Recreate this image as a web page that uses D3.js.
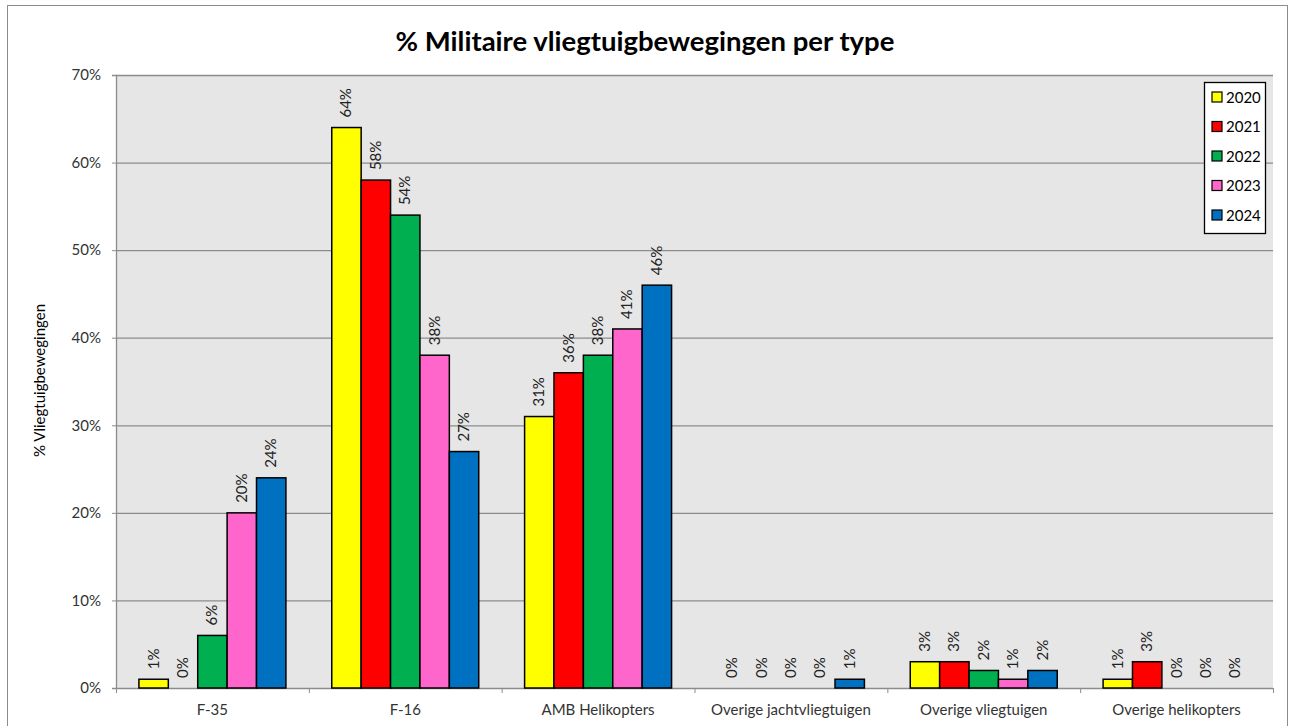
<!DOCTYPE html>
<html>
<head>
<meta charset="utf-8">
<script src="https://cdn.jsdelivr.net/npm/d3@7"></script>
<style>
  body { margin: 0; background: #fff; }
  svg { font-family: Lato, 'Open Sans', sans-serif; }
</style>
</head>
<body>
<svg width="1290" height="726"></svg>
<script>
const categories = ['F-35', 'F-16', 'AMB Helikopters', 'Overige jachtvliegtuigen', 'Overige vliegtuigen', 'Overige helikopters'];
const years = ['2020', '2021', '2022', '2023', '2024'];
const colors = ['#ffff00', '#ff0000', '#00b050', '#ff66cc', '#0070c0'];
const v2020 = [1, 64, 31, 0, 3, 1];
const v2021 = [0, 58, 36, 0, 3, 3];
const v2022 = [6, 54, 38, 0, 2, 0];
const v2023 = [20, 38, 41, 0, 1, 0];
const v2024 = [24, 27, 46, 1, 2, 0];
const yTicks = [0, 10, 20, 30, 40, 50, 60, 70];

const series = [v2020, v2021, v2022, v2023, v2024];
const data = [];
categories.forEach((c, i) => {
  years.forEach((y, j) => data.push({ cat: c, year: y, value: series[j][i], color: colors[j] }));
});

const svg = d3.select('svg');
const width = +svg.attr('width');
const height = +svg.attr('height');
const margin = { top: 75, right: 17, bottom: 38, left: 116 };
const innerWidth = width - margin.left - margin.right;
const innerHeight = height - margin.top - margin.bottom;

// outer frame
svg.append('rect')
  .attr('x', 7.5).attr('y', 5.5)
  .attr('width', width - 10).attr('height', height)
  .attr('fill', 'none').attr('stroke', '#8c8c8c');

svg.append('text')
  .attr('x', width / 2).attr('y', 51)
  .attr('text-anchor', 'middle')
  .attr('font-size', 27.5).attr('font-weight', 'bold')
  .attr('fill', '#000')
  .text('% Militaire vliegtuigbewegingen per type');

const g = svg.append('g')
  .attr('transform', `translate(${margin.left},${margin.top})`);

const xScale = d3.scaleBand().domain(categories).range([0, innerWidth]);
const xInner = d3.scaleBand().domain(years).range([0, xScale.bandwidth()]).paddingOuter(0.78);
const yScale = d3.scaleLinear().domain([0, 70]).range([innerHeight, 0]);

g.append('rect')
  .attr('width', innerWidth).attr('height', innerHeight)
  .attr('fill', '#e6e6e6');

g.selectAll('.grid').data(yTicks.filter(t => t > 0))
  .enter().append('line')
    .attr('x1', 0).attr('x2', innerWidth)
    .attr('y1', d => yScale(d) + 0.5).attr('y2', d => yScale(d) + 0.5)
    .attr('stroke', '#8c8c8c').attr('stroke-width', 1.3);

const yAxis = d3.axisLeft(yScale)
  .tickValues(yTicks)
  .tickFormat(d => d + '%')
  .tickSize(4).tickPadding(11);

const yAxisG = g.append('g').call(yAxis);
yAxisG.select('.domain').attr('stroke', '#8c8c8c').attr('stroke-width', 1.3);
yAxisG.selectAll('.tick line').attr('stroke', '#8c8c8c');
yAxisG.selectAll('.tick text').attr('font-size', 15).attr('fill', '#333')
  .attr('font-family', 'Lato, sans-serif');

const xAxisG = g.append('g').attr('transform', `translate(0,${innerHeight})`);
xAxisG.append('line')
  .attr('x1', 0).attr('x2', innerWidth)
  .attr('y1', 0.5).attr('y2', 0.5)
  .attr('stroke', '#8c8c8c').attr('stroke-width', 1.3);
xAxisG.selectAll('.xtick').data(d3.range(categories.length + 1))
  .enter().append('line')
    .attr('x1', d => d * xScale.step() + 0.5).attr('x2', d => d * xScale.step() + 0.5)
    .attr('y1', 0).attr('y2', 5)
    .attr('stroke', '#8c8c8c');
xAxisG.selectAll('.xlabel').data(categories)
  .enter().append('text')
    .attr('x', d => xScale(d) + xScale.bandwidth() / 2)
    .attr('y', 27)
    .attr('text-anchor', 'middle')
    .attr('font-size', 15).attr('fill', '#333')
    .text(d => d);

g.append('text')
  .attr('transform', `translate(${45 - margin.left},${innerHeight / 2 - 1}) rotate(-90)`)
  .attr('text-anchor', 'middle')
  .attr('font-size', 15).attr('fill', '#000')
  .text('% Vliegtuigbewegingen');

g.selectAll('.bar').data(data.filter(d => d.value > 0))
  .enter().append('rect')
    .attr('x', d => xScale(d.cat) + xInner(d.year))
    .attr('y', d => yScale(d.value))
    .attr('width', xInner.bandwidth())
    .attr('height', d => innerHeight - yScale(d.value))
    .attr('fill', d => d.color)
    .attr('stroke', '#000').attr('stroke-width', 1.5);

g.selectAll('.label').data(data)
  .enter().append('text')
    .attr('transform', d => `translate(${xScale(d.cat) + xInner(d.year) + xInner.bandwidth() / 2 + 5},${yScale(d.value) - 10}) rotate(-90)`)
    .attr('font-size', 15).attr('fill', '#222')
    .text(d => d.value + '%');

// legend
const legend = svg.append('g').attr('transform', 'translate(1204,82)');
legend.append('rect')
  .attr('x', 0.5).attr('y', 0.5).attr('width', 61).attr('height', 151)
  .attr('fill', '#fff').attr('stroke', '#000').attr('stroke-width', 1.3);
years.forEach((y, i) => {
  const row = legend.append('g').attr('transform', `translate(8,${15 + i * 29.5})`);
  row.append('rect')
    .attr('x', 0).attr('y', -5).attr('width', 10).attr('height', 10)
    .attr('fill', colors[i]).attr('stroke', '#000').attr('stroke-width', 1.2);
  row.append('text')
    .attr('x', 14).attr('y', 5.5)
    .attr('font-size', 15).attr('fill', '#000')
    .text(y);
});
</script>
</body>
</html>
